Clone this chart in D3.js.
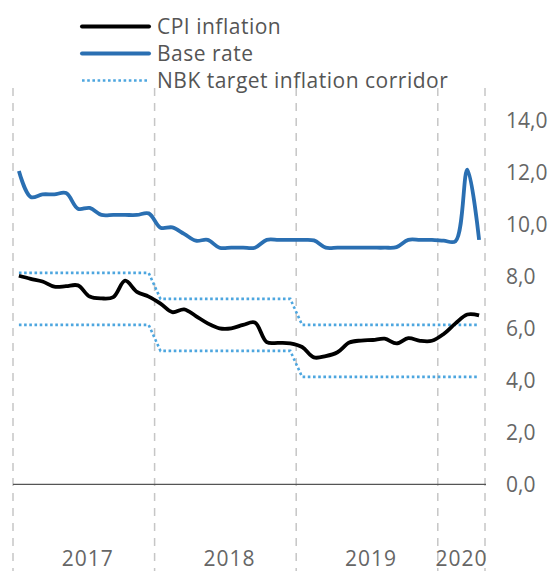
<!DOCTYPE html>
<html>
<head>
<meta charset="utf-8">
<script src="https://cdn.jsdelivr.net/npm/d3@7"></script>
<style>
  body { margin: 0; background: #fff; }
  text { font-family: "Open Sans", sans-serif; }
</style>
</head>
<body>
<svg width="557" height="571"></svg>
<script>
// monthly observations, Jan 2017 - Apr 2020
const months = [
  '2017-01','2017-02','2017-03','2017-04','2017-05','2017-06','2017-07','2017-08','2017-09','2017-10','2017-11','2017-12',
  '2018-01','2018-02','2018-03','2018-04','2018-05','2018-06','2018-07','2018-08','2018-09','2018-10','2018-11','2018-12',
  '2019-01','2019-02','2019-03','2019-04','2019-05','2019-06','2019-07','2019-08','2019-09','2019-10','2019-11','2019-12',
  '2020-01','2020-02','2020-03','2020-04'
];

const cpi = [
  8.02, 7.9, 7.8, 7.6, 7.62, 7.65, 7.22, 7.15, 7.2, 7.83, 7.4, 7.22,
  6.95, 6.62, 6.73, 6.47, 6.19, 6.0, 6.0, 6.13, 6.22, 5.47, 5.44, 5.42,
  5.28, 4.88, 4.93, 5.08, 5.45, 5.53, 5.55, 5.6, 5.42, 5.62, 5.52, 5.52,
  5.78, 6.19, 6.53, 6.5
];

const baseRate = [
  12.05, 11.05, 11.15, 11.15, 11.2, 10.6, 10.63, 10.36, 10.36, 10.36, 10.36, 10.42,
  9.87, 9.88, 9.63, 9.37, 9.4, 9.1, 9.1, 9.1, 9.1, 9.4, 9.4, 9.4,
  9.4, 9.38, 9.1, 9.1, 9.1, 9.1, 9.1, 9.1, 9.12, 9.4, 9.4, 9.4,
  9.37, 9.35, 12.1, 9.4
];

const corridorUpper = [
  8.13, 8.13, 8.13, 8.13, 8.13, 8.13, 8.13, 8.13, 8.13, 8.13, 8.13, 8.13,
  7.13, 7.13, 7.13, 7.13, 7.13, 7.13, 7.13, 7.13, 7.13, 7.13, 7.13, 7.13,
  6.13, 6.13, 6.13, 6.13, 6.13, 6.13, 6.13, 6.13, 6.13, 6.13, 6.13, 6.13,
  6.13, 6.13, 6.13, 6.13
];

const corridorLower = [
  6.13, 6.13, 6.13, 6.13, 6.13, 6.13, 6.13, 6.13, 6.13, 6.13, 6.13, 6.13,
  5.13, 5.13, 5.13, 5.13, 5.13, 5.13, 5.13, 5.13, 5.13, 5.13, 5.13, 5.13,
  4.13, 4.13, 4.13, 4.13, 4.13, 4.13, 4.13, 4.13, 4.13, 4.13, 4.13, 4.13,
  4.13, 4.13, 4.13, 4.13
];

const years = ['2017', '2018', '2019', '2020'];
const yTicks = [0, 2, 4, 6, 8, 10, 12, 14];

const svg = d3.select('svg');

const x = d3.scaleBand()
  .domain(months)
  .range([13, 485]);

const y = d3.scaleLinear()
  .domain([0, 14])
  .range([484.3, 120.3]);

const cx = m => x(m) + x.bandwidth() / 2;

// year separators
const yearStart = yr => x(months.find(m => m.startsWith(yr)));
const yearEnd = yr => {
  const ms = months.filter(m => m.startsWith(yr));
  return x(ms[ms.length - 1]) + x.bandwidth();
};

const bounds = years.map(yearStart).concat([yearEnd(years[years.length - 1])]);

svg.append('g')
  .selectAll('line')
  .data(bounds)
  .join('line')
  .attr('x1', d => d)
  .attr('x2', d => d)
  .attr('y1', 88)
  .attr('y2', 571)
  .style('stroke', '#c6c6c6')
  .style('stroke-width', 1.5)
  .style('stroke-dasharray', '8,7');

// zero line
svg.append('line')
  .attr('x1', x.range()[0])
  .attr('x2', x.range()[1] + 1)
  .attr('y1', y(0))
  .attr('y2', y(0))
  .style('stroke', '#555')
  .style('stroke-width', 1.2);

// year labels
svg.append('g')
  .selectAll('text')
  .data(years)
  .join('text')
  .attr('x', d => (yearStart(d) + yearEnd(d)) / 2 + (d === '2020' ? 0 : 4))
  .attr('y', 566)
  .style('text-anchor', 'middle')
  .style('font-size', '21px')
  .style('letter-spacing', '1px')
  .style('fill', '#666')
  .text(d => d);

// right axis labels
const yAxis = d3.axisRight(y)
  .tickValues(yTicks)
  .tickSize(0)
  .tickPadding(0)
  .tickFormat(d => d3.format('.1f')(d).replace('.', ','));

svg.append('g')
  .attr('transform', 'translate(506,0)')
  .call(yAxis)
  .call(g => g.select('.domain').remove())
  .call(g => g.selectAll('text')
    .style('font-family', '"Open Sans", sans-serif')
    .style('font-size', '21px')
    .style('fill', '#666'));

const smooth = d3.line()
  .x((d, i) => cx(months[i]))
  .y(d => y(d))
  .curve(d3.curveCatmullRom);

const straight = d3.line()
  .x((d, i) => cx(months[i]))
  .y(d => y(d));

// corridor
svg.append('g')
  .selectAll('path')
  .data([corridorUpper, corridorLower])
  .join('path')
  .attr('d', straight)
  .style('fill', 'none')
  .style('stroke', '#4da6df')
  .style('stroke-width', 2.6)
  .style('stroke-dasharray', '2.6,2.6');

svg.append('path')
  .attr('d', smooth(baseRate))
  .style('fill', 'none')
  .style('stroke', '#2a6fb2')
  .style('stroke-width', 3.8)
  .style('stroke-linejoin', 'round');

svg.append('path')
  .attr('d', smooth(cpi))
  .style('fill', 'none')
  .style('stroke', '#000')
  .style('stroke-width', 3.8)
  .style('stroke-linejoin', 'round');

// legend
const legend = [
  { name: 'CPI inflation', color: '#000', width: 4, dash: null },
  { name: 'Base rate', color: '#2a6fb2', width: 4, dash: null },
  { name: 'NBK target inflation corridor', color: '#4da6df', width: 2.6, dash: '2.6,2.6' }
];

const lg = svg.append('g')
  .selectAll('g')
  .data(legend)
  .join('g')
  .attr('transform', (d, i) => `translate(0,${26.5 + i * 27})`);

lg.append('line')
  .attr('x1', 82)
  .attr('x2', 149)
  .style('stroke', d => d.color)
  .style('stroke-width', d => d.width)
  .style('stroke-linecap', d => d.dash ? 'butt' : 'round')
  .style('stroke-dasharray', d => d.dash);

lg.append('text')
  .attr('x', 157)
  .attr('dy', '0.35em')
  .style('font-size', '21px')
  .style('letter-spacing', '0.5px')
  .style('fill', '#555')
  .text(d => d.name);
</script>
</body>
</html>
